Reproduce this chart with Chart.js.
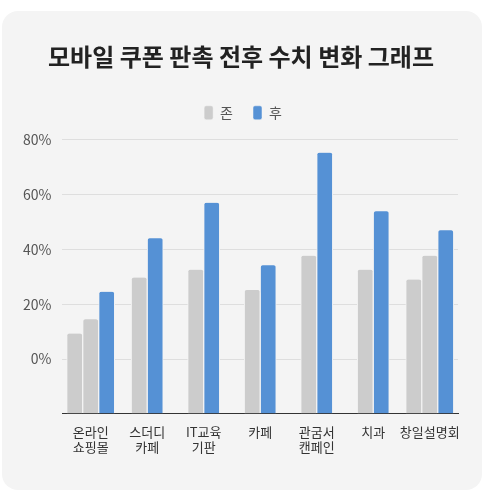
<!DOCTYPE html>
<html lang="ko">
<head>
<meta charset="utf-8">
<title>모바일 쿠폰 판촉 전후 수치 변화 그래프</title>
<script src="https://cdn.jsdelivr.net/npm/chart.js@4.4.1/dist/chart.umd.min.js"></script>
<style>
  html, body { margin: 0; padding: 0; background: #fff; }
  .card {
    position: absolute;
    left: 2px; top: 11px;
    width: 480px; height: 479px;
    background: #f4f4f4;
    border-radius: 16px;
    overflow: hidden;
  }
  canvas { display: block; }
</style>
</head>
<body>
<div class="card">
  <canvas id="chart" width="480" height="479"></canvas>
</div>
<script>
const categories = [
  ["온라인", "쇼핑몰"],
  ["스더디", "카페"],
  ["IT교육", "기판"],
  "카페",
  ["관굼서", "캔페인"],
  "치과",
  "창일설명회"
];
const beforeValues = [9.3, 29.7, 32.6, 25.2, 37.7, 32.6, 29.0];
const beforeExtra = [14.5, null, null, null, null, null, 37.7];
const afterValues = [24.5, 44.1, 57.0, 34.2, 75.3, 53.9, 47.0];
const yTicks = [-20, 0, 20, 40, 60, 80];

const FONT = "'Noto Sans CJK KR', 'Noto Sans', sans-serif";
const GRAY = "#cccccc";
const BLUE = "#5591d5";
const BG = "#f4f4f4";

function barSet(label, data, color) {
  return {
    label,
    data,
    backgroundColor: color,
    borderColor: BG,
    borderWidth: { left: 1, right: 1, top: 0, bottom: 0 },
    borderRadius: { topLeft: 3, topRight: 3 },
    borderSkipped: "bottom",
    barThickness: 16,
    base: yTicks[0]
  };
}

// more room under the legend, and title/legend centred on the card
const tweaks = {
  id: "tweaks",
  beforeInit(chart) {
    const fit = chart.legend.fit;
    chart.legend.fit = function () {
      fit.call(this);
      this.height += 10;
    };
  },
  afterLayout(chart) {
    chart.titleBlock.left += 6;
    chart.titleBlock.right += 6;
    chart.legend.left += 8;
    chart.legend.right += 8;
  }
};

new Chart(document.getElementById("chart"), {
  type: "bar",
  data: {
    labels: categories,
    datasets: [
      barSet("존", beforeValues, GRAY),
      barSet("존2", beforeExtra, GRAY),
      barSet("후", afterValues, BLUE)
    ]
  },
  plugins: [tweaks],
  options: {
    responsive: false,
    animation: false,
    skipNull: true,
    layout: { padding: { left: 10, right: 24, top: 31, bottom: 33 } },
    plugins: {
      title: {
        display: true,
        text: "모바일 쿠폰 판촉 전후 수치 변화 그래프",
        color: "#222",
        font: { family: FONT, size: 24, weight: "bold" },
        padding: { top: 0, bottom: 15 }
      },
      legend: {
        labels: {
          font: { family: FONT, size: 14 },
          color: "#555",
          boxWidth: 9,
          boxHeight: 14,
          useBorderRadius: true,
          borderRadius: 2,
          padding: 20,
          filter: item => item.datasetIndex !== 1
        }
      },
      tooltip: { enabled: false }
    },
    scales: {
      x: {
        grid: { display: false },
        border: { color: "#333", width: 1 },
        ticks: {
          font: { family: FONT, size: 13 },
          color: "#333",
          maxRotation: 0,
          autoSkip: false,
          padding: 2
        }
      },
      y: {
        min: yTicks[0],
        max: yTicks[yTicks.length - 1],
        afterBuildTicks: axis => {
          axis.ticks = yTicks.map(v => ({ value: v }));
        },
        ticks: {
          font: { family: FONT, size: 14 },
          color: "#555",
          padding: 11,
          callback: v => v < 0 ? "" : v + "%"
        },
        grid: { color: "#dedede", drawTicks: false },
        border: { display: false }
      }
    }
  }
});
</script>
</body>
</html>
